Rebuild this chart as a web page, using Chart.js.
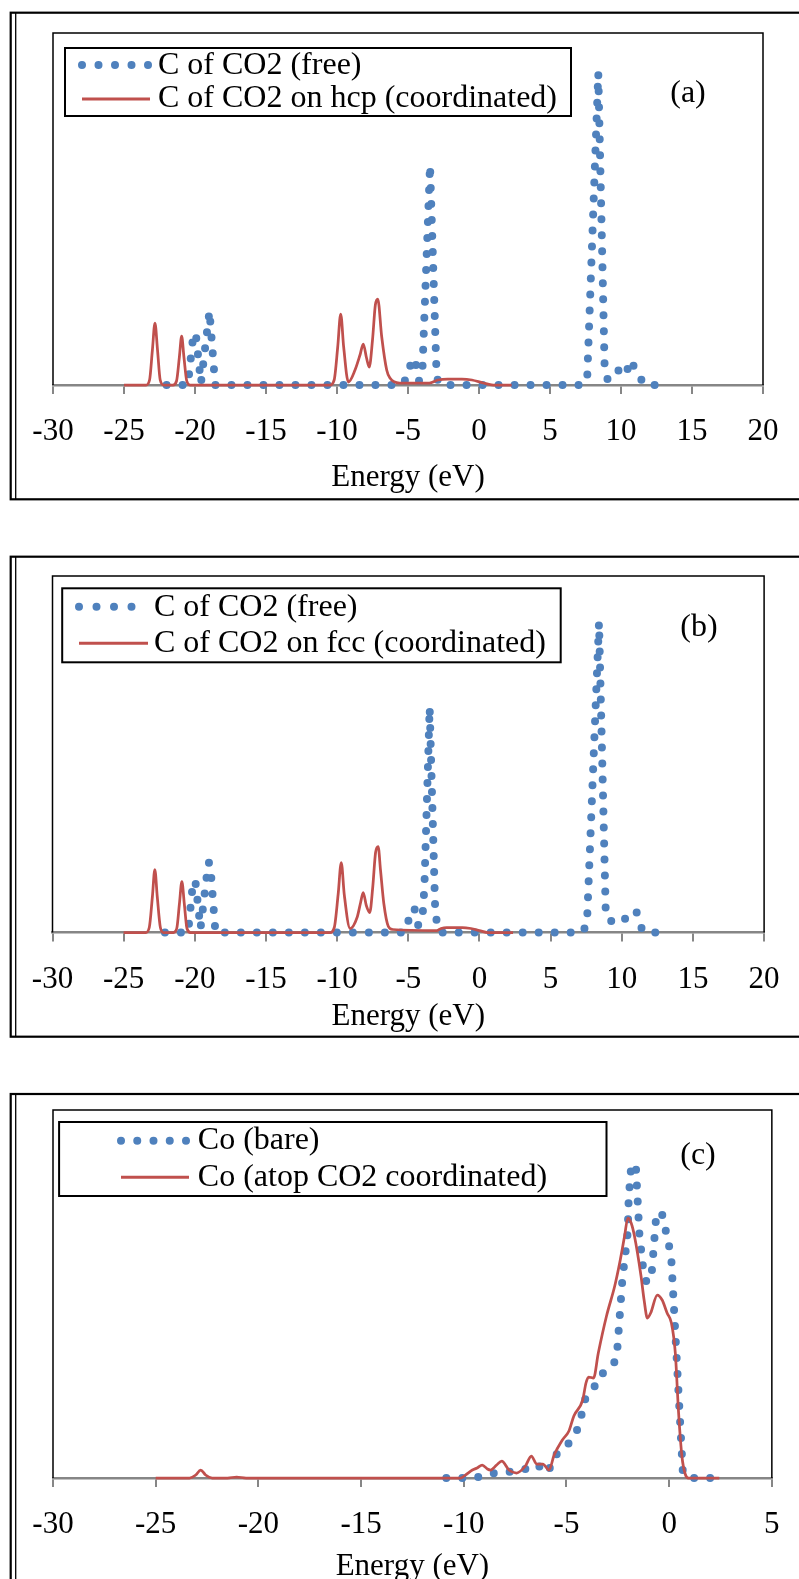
<!DOCTYPE html>
<html>
<head>
<meta charset="utf-8">
<script src="https://cdn.jsdelivr.net/npm/chart.js@4.4.1/dist/chart.umd.min.js"></script>
<style>
html, body { margin: 0; padding: 0; background: #fff; }
body { width: 799px; height: 1579px; position: relative; overflow: hidden; }
.panel { position: absolute; left: 0; width: 799px; }
</style>
</head>
<body>
<div class="panel" style="top:0;height:520px"><canvas id="pa"></canvas></div>
<div class="panel" style="top:520px;height:540px"><canvas id="pb"></canvas></div>
<div class="panel" style="top:1060px;height:540px"><canvas id="pc"></canvas></div>
<script>
const FONT = '"Liberation Serif", "Times New Roman", serif';
const BLUE = '#4F81BD';
const RED = '#C0504D';
const AXIS_GRAY = '#868686';
const DOT = 8;

// panel (a): C of CO2, free vs on hcp
const aTicks = [-30, -25, -20, -15, -10, -5, 0, 5, 10, 15, 20];
const aNames = ['C of CO2 (free)', 'C of CO2 on hcp (coordinated)'];
const aFreeE = [-22.0, -20.5, -20.12, -19.95, -19.58, -18.98, -18.58, -5.4, -4.95, -4.74, -4.44, -4.22, -3.98, -3.45, -2.98, -2.7, 7.3, 7.62, 8.40, 8.85, 9.05, 9.7, 10.28, 10.7, 11.1, 11.7, 12.9];
const aFreeDos = [0, 0, 0.50, 0.52, 0.02, 0.74, 0, 0, 0.11, 0.27, 0.20, 0.04, 0.17, 2.20, 0.07, 0, 0, 0.07, 3.12, 0.16, 0.06, 0.16, 0.09, 0.25, 0.12, 0, 0];
const aHcpE = [-25, -23.45, -23.2, -23.0, -22.82, -22.64, -22.45, -22.2, -21.55, -21.3, -21.1, -20.94, -20.78, -20.58, -20.35, -10.5, -10.2, -9.95, -9.74, -9.53, -9.2, -8.73, -8.38, -8.15, -7.92, -7.73, -7.5, -7.3, -7.13, -6.85, -6.5, -6.27, -5.6, -3.5, -2.9, -2.2, -1.2, -0.5, 0.3, 1.0, 2.3];
const aHcpDos = [0, 0, 0.05, 0.35, 0.62, 0.35, 0.05, 0, 0, 0.04, 0.28, 0.49, 0.28, 0.04, 0, 0, 0.05, 0.38, 0.71, 0.38, 0.03, 0.15, 0.30, 0.41, 0.27, 0.18, 0.45, 0.80, 0.86, 0.48, 0.15, 0.07, 0.02, 0.02, 0.05, 0.06, 0.06, 0.05, 0.02, 0, 0];

// panel (b): C of CO2, free vs on fcc
const bTicks = [-30, -25, -20, -15, -10, -5, 0, 5, 10, 15, 20];
const bNames = ['C of CO2 (free)', 'C of CO2 on fcc (coordinated)'];
const bFreeE = [-22.1, -20.47, -20.12, -19.95, -19.6, -19.05, -18.92, -18.55, -5.3, -5.05, -4.88, -4.55, -4.3, -4.0, -3.87, -3.5, -3.1, -2.78, 7.2, 7.55, 8.40, 8.88, 9.3, 9.85, 10.5, 11.0, 11.4, 11.65, 12.5];
const bFreeDos = [0, 0, 0.52, 0.50, 0.04, 0.70, 0.69, 0, 0, 0.06, 0.23, 0.23, 0.07, 0.16, 0.45, 2.25, 0.17, 0, 0, 0.08, 3.10, 0.16, 0.11, 0.09, 0.17, 0.22, 0.04, 0, 0];
const bFccE = [-25, -23.45, -23.2, -22.98, -22.81, -22.64, -22.42, -22.2, -21.5, -21.27, -21.08, -20.91, -20.74, -20.55, -20.3, -10.5, -10.2, -9.93, -9.71, -9.5, -9.09, -8.6, -8.35, -8.17, -7.95, -7.71, -7.5, -7.3, -7.12, -6.95, -6.72, -6.4, -6.1, -3.0, -2.7, -2.3, -1.2, -0.6, 0.0, 0.6, 2.36];
const bFccDos = [0, 0, 0.05, 0.36, 0.63, 0.36, 0.05, 0, 0, 0.04, 0.29, 0.51, 0.29, 0.04, 0, 0, 0.05, 0.38, 0.70, 0.38, 0.04, 0.15, 0.30, 0.40, 0.27, 0.20, 0.45, 0.80, 0.86, 0.62, 0.29, 0.06, 0.03, 0.02, 0.04, 0.05, 0.05, 0.04, 0.02, 0, 0];

// panel (c): Co, bare vs atop CO2 coordinated
const cTicks = [-30, -25, -20, -15, -10, -5, 0, 5];
const cNames = ['Co (bare)', 'Co (atop CO2 coordinated)'];
const cBareE = [-10.85, -9.6, -9.0, -8.5, -7.9, -7.1, -6.48, -5.9, -5.6, -5.2, -4.88, -4.5, -4.28, -4.12, -3.69, -3.37, -2.97, -2.62, -2.52, -2.28, -2.02, -1.97, -1.84, -1.62, -1.45, -1.28, -1.12, -0.88, -0.63, -0.37, -0.02, 0.11, 0.66, 0.9, 2.0];
const cBareDos = [0, 0, 0.02, 0.05, 0.06, 0.08, 0.14, 0.05, 0.22, 0.28, 0.35, 0.47, 0.62, 0.78, 0.89, 1.03, 1.08, 1.17, 1.30, 1.98, 2.45, 2.80, 3.14, 3.12, 2.44, 2.12, 1.97, 1.97, 2.62, 2.66, 2.34, 2.17, 0.08, 0, 0];
const cAtopE = [-25, -23.35, -23.05, -22.81, -22.57, -22.25, -21.5, -21.06, -20.6, -10.15, -9.85, -9.58, -9.35, -9.1, -8.85, -8.7, -8.4, -8.15, -7.8, -7.43, -7.0, -6.71, -6.45, -6.15, -5.85, -5.6, -5.2, -4.88, -4.64, -4.21, -4.05, -3.92, -3.68, -3.45, -3.05, -2.65, -2.41, -2.17, -2.01, -1.85, -1.69, -1.37, -1.22, -1.06, -0.9, -0.58, -0.34, -0.1, 0.11, 0.3, 0.46, 0.62, 0.78, 0.94, 2.44];
const cAtopDos = [0, 0, 0.03, 0.08, 0.03, 0, 0, 0.01, 0, 0, 0.04, 0.08, 0.10, 0.13, 0.09, 0.08, 0.13, 0.17, 0.08, 0.05, 0.12, 0.22, 0.14, 0.14, 0.08, 0.23, 0.38, 0.47, 0.62, 0.78, 0.95, 1.01, 1.00, 1.25, 1.62, 1.92, 2.15, 2.42, 2.60, 2.55, 2.42, 2.02, 1.78, 1.60, 1.65, 1.83, 1.78, 1.65, 1.55, 1.25, 0.65, 0.22, 0.04, 0, 0];

// where each panel sits inside its own canvas
const layoutA = {
    canvas: 'pa', tag: '(a)', canvasH: 520, yMax: 3.52, titleGap: 92.5,
    area: { left: 53, right: 763, top: 33, bottom: 385 },
    frame: { left: 10.7, inner: 15.7, top: 12.7, bottom: 499.3 },
    legendBox: [65, 48, 571, 116], dots: [82, 148, 5, 65], line: [82, 150, 99],
    textX: 158, rows: [66, 99], tagXY: [688, 94]
};
const layoutB = {
    canvas: 'pb', tag: '(b)', canvasH: 540, yMax: 3.565, titleGap: 84.2,
    area: { left: 52.5, right: 778, top: 56, bottom: 412.5 },
    frame: { left: 10.7, inner: 15.7, top: 36.7, bottom: 516.7 },
    legendBox: [62.2, 68.3, 560.7, 142.3], dots: [79, 131.5, 4, 86.7], line: [79, 148, 123.3],
    textX: 154, rows: [87.5, 124], tagXY: [699, 108]
};
const layoutC = {
    canvas: 'pc', tag: '(c)', canvasH: 540, yMax: 3.68, titleGap: 88.7,
    area: { left: 53, right: 785, top: 50, bottom: 418 },
    frame: { left: 10.7, inner: 15.7, top: 34, bottom: 600 },
    legendBox: [59.1, 62, 606.5, 136], dots: [121, 186, 5, 80.7], line: [121, 189, 117.3],
    textX: 197.8, rows: [81, 118], tagXY: [698, 96]
};

function toPoints(energies, dos) {
    return energies.map((e, i) => ({ x: e, y: dos[i] }));
}

function framePlugin(L, names) {
    return {
        id: 'panelFrame',
        beforeDatasetsDraw(chart) {
            const { ctx, chartArea: a } = chart;
            ctx.save();
            ctx.strokeStyle = '#000';
            ctx.lineWidth = 1.5;
            ctx.beginPath();
            ctx.moveTo(a.left, a.bottom);
            ctx.lineTo(a.left, a.top);
            ctx.lineTo(a.right, a.top);
            ctx.lineTo(a.right, a.bottom);
            ctx.stroke();
            ctx.restore();
        },
        afterDraw(chart) {
            const ctx = chart.ctx;
            const f = L.frame;
            ctx.save();
            // outer picture frame
            ctx.strokeStyle = '#000';
            ctx.lineWidth = 2.2;
            ctx.strokeRect(f.left, f.top, 840 - f.left, f.bottom - f.top);
            ctx.lineWidth = 1.3;
            ctx.beginPath();
            ctx.moveTo(f.inner, f.top);
            ctx.lineTo(f.inner, f.bottom);
            ctx.stroke();

            // legend box
            const [x1, y1, x2, y2] = L.legendBox;
            ctx.lineWidth = 2;
            ctx.strokeRect(x1, y1, x2 - x1, y2 - y1);

            // dotted sample
            const [dx1, dx2, n, dy] = L.dots;
            ctx.strokeStyle = BLUE;
            ctx.lineWidth = DOT;
            ctx.lineCap = 'round';
            ctx.setLineDash([0, (dx2 - dx1) / (n - 1)]);
            ctx.beginPath();
            ctx.moveTo(dx1, dy);
            ctx.lineTo(dx2 + 0.5, dy);
            ctx.stroke();
            ctx.setLineDash([]);

            // solid sample
            ctx.strokeStyle = RED;
            ctx.lineWidth = 3;
            ctx.lineCap = 'butt';
            ctx.beginPath();
            ctx.moveTo(L.line[0], L.line[2]);
            ctx.lineTo(L.line[1], L.line[2]);
            ctx.stroke();

            // legend text and panel tag
            ctx.fillStyle = '#000';
            ctx.font = '32px ' + FONT;
            ctx.textBaseline = 'middle';
            ctx.textAlign = 'left';
            ctx.fillText(names[0], L.textX, L.rows[0]);
            ctx.fillText(names[1], L.textX, L.rows[1]);
            ctx.textAlign = 'center';
            ctx.fillText(L.tag, L.tagXY[0], L.tagXY[1]);
            ctx.restore();
        }
    };
}

function makePanel(L, ticks, names, freeE, freeDos, boundE, boundDos) {
    const axisH = L.titleGap + 18.6;
    return new Chart(document.getElementById(L.canvas), {
        type: 'line',
        data: {
            datasets: [
                {
                    label: names[0],
                    data: toPoints(freeE, freeDos),
                    borderColor: BLUE,
                    borderWidth: DOT,
                    borderDash: [0, 16],
                    borderCapStyle: 'round',
                    borderJoinStyle: 'round',
                    pointRadius: 0,
                    tension: 0,
                    clip: false,
                    order: 2
                },
                {
                    label: names[1],
                    data: toPoints(boundE, boundDos),
                    borderColor: RED,
                    borderWidth: 2.75,
                    pointRadius: 0,
                    cubicInterpolationMode: 'monotone',
                    clip: false,
                    order: 1
                }
            ]
        },
        options: {
            responsive: true,
            maintainAspectRatio: false,
            animation: false,
            events: [],
            layout: {
                padding: {
                    left: L.area.left,
                    right: 799 - L.area.right,
                    top: L.area.top,
                    bottom: L.canvasH - L.area.bottom - axisH
                }
            },
            plugins: {
                legend: { display: false },
                tooltip: { enabled: false }
            },
            scales: {
                x: {
                    type: 'linear',
                    min: ticks[0],
                    max: ticks[ticks.length - 1],
                    afterFit: (scale) => { scale.height = axisH; },
                    afterBuildTicks: (scale) => { scale.ticks = ticks.map(v => ({ value: v })); },
                    ticks: {
                        color: '#000',
                        font: { family: FONT, size: 31 },
                        padding: 19.4,
                        maxRotation: 0,
                        autoSkip: false,
                        callback: (value) => String(value)
                    },
                    grid: {
                        drawOnChartArea: false,
                        drawTicks: true,
                        tickLength: 9,
                        color: AXIS_GRAY,
                        lineWidth: 2
                    },
                    border: { display: true, color: AXIS_GRAY, width: 2.5 },
                    title: {
                        display: true,
                        text: 'Energy (eV)',
                        color: '#000',
                        font: { family: FONT, size: 31, lineHeight: 1.2 },
                        padding: 0
                    }
                },
                y: { display: false, min: 0, max: L.yMax }
            }
        },
        plugins: [framePlugin(L, names)]
    });
}

makePanel(layoutA, aTicks, aNames, aFreeE, aFreeDos, aHcpE, aHcpDos);
makePanel(layoutB, bTicks, bNames, bFreeE, bFreeDos, bFccE, bFccDos);
makePanel(layoutC, cTicks, cNames, cBareE, cBareDos, cAtopE, cAtopDos);
</script>
</body>
</html>
